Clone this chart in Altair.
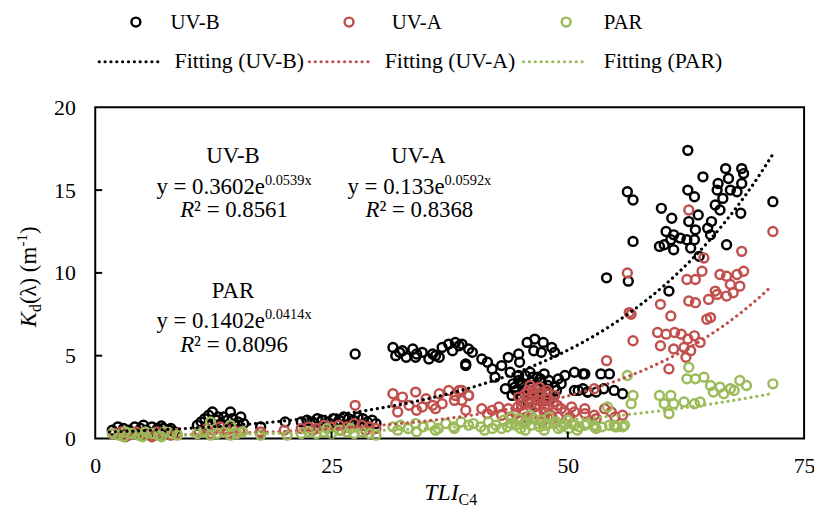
import altair as alt
import numpy as np
import pandas as pd

# ---------------- data ----------------
series_names = ["UV-B", "UV-A", "PAR"]
series_colors = ["#000000", "#C0504D", "#9BBB59"]

uvb_points = [
    (1.8, 0.5), (2.4, 0.7), (3.0, 0.6), (3.6, 0.5), (4.2, 0.7), (4.8, 0.6), (5.4, 0.5), (6.0, 0.7),
    (6.6, 0.6), (7.2, 0.6), (7.8, 0.5), (8.4, 0.4), (2.8, 0.3), (4.5, 0.35), (6.3, 0.4), (8.0, 0.6),
    (5.1, 0.8), (7.0, 0.75),
    (10.8, 0.8), (11.2, 1.0), (11.6, 1.2), (11.9, 0.8), (12.4, 1.6), (12.8, 1.1), (13.3, 0.9), (13.6, 1.3),
    (14.0, 1.1), (14.3, 1.6), (14.7, 0.8), (15.1, 1.0), (15.4, 1.3), (15.7, 0.9), (12.0, 1.4), (13.0, 1.3),
    (14.5, 1.2), (17.5, 0.7), (20.1, 1.0),
    (21.8, 1.0), (22.4, 1.1), (23.0, 1.0), (23.5, 1.2), (24.0, 1.1), (24.6, 1.0), (25.2, 1.2), (25.8, 1.1),
    (26.3, 1.3), (26.8, 1.2), (27.3, 1.1), (27.8, 1.3), (28.3, 1.2), (28.8, 1.0), (29.3, 1.1), (29.7, 0.9),
    (23.2, 0.9), (25.5, 0.9), (27.0, 0.9), (28.5, 0.8), (27.5, 5.1),
    (31.5, 5.5), (32.5, 5.3), (33.6, 5.4), (34.6, 5.2), (35.7, 5.1), (36.7, 5.5), (37.4, 5.7), (38.5, 5.6),
    (39.5, 5.4), (31.8, 5.0), (32.9, 4.9), (33.9, 4.9), (35.3, 4.8), (36.4, 4.9), (39.2, 4.5), (38.1, 5.8),
    (38.8, 5.7), (39.9, 5.2), (32.2, 5.2), (34.0, 5.1), (36.0, 5.0), (37.8, 5.3),
    (39.2, 4.4), (40.9, 4.8), (42.0, 4.2), (42.3, 3.7), (43.0, 4.4), (43.7, 4.9), (44.8, 5.1), (44.9, 4.6),
    (43.9, 4.0), (44.8, 3.8), (41.5, 4.6),
    (45.7, 5.8), (46.5, 6.0), (47.4, 5.8), (48.3, 5.5), (46.4, 5.3), (47.2, 5.2), (48.6, 5.2), (43.4, 3.0),
    (44.4, 3.1), (45.1, 3.2), (46.2, 3.4), (47.2, 3.4), (47.9, 3.2), (44.1, 2.6), (45.1, 2.5), (46.5, 2.7),
    (47.9, 2.8), (48.6, 3.1), (49.0, 3.6), (49.7, 3.8), (45.5, 3.8), (46.0, 4.0), (46.8, 3.7), (47.5, 3.9),
    (45.8, 2.2), (46.6, 2.0), (47.6, 2.3), (48.2, 2.4), (44.8, 3.5), (49.3, 3.3), (46.0, 2.9), (47.0, 2.7),
    (44.5, 2.9), (45.3, 2.8), (46.1, 3.1), (46.9, 3.0), (47.7, 2.9), (48.5, 2.6), (45.0, 3.4), (46.3, 3.7),
    (47.1, 3.6), (48.0, 3.5), (44.2, 3.3), (45.6, 2.6), (47.4, 2.5), (48.8, 2.9), (46.7, 2.4),
    (50.7, 4.0), (51.6, 3.9), (50.7, 2.9), (51.6, 3.0), (52.1, 2.8), (51.8, 3.9), (53.5, 3.9), (54.4, 3.9),
    (51.1, 2.9), (52.1, 2.8), (53.0, 2.8), (55.8, 2.7), (53.8, 3.0), (54.9, 2.9),
    (62.7, 17.4), (56.3, 14.9), (56.9, 14.4), (59.9, 13.9), (62.7, 15.0), (63.4, 14.6), (64.3, 15.8),
    (66.7, 16.3), (68.4, 16.3), (68.6, 16.0), (67.0, 15.7), (65.9, 15.4), (65.8, 15.0), (67.2, 15.0),
    (67.9, 14.9), (68.4, 15.4), (66.4, 14.5), (65.6, 14.1), (66.1, 13.8), (68.3, 13.6), (71.7, 14.3),
    (61.0, 13.3), (62.8, 13.1), (63.8, 13.5), (65.2, 13.1), (64.8, 12.7), (63.5, 12.6), (65.1, 12.3),
    (60.4, 12.5), (61.2, 12.3), (61.9, 12.1), (60.9, 12.0), (62.6, 12.0), (63.4, 12.0), (59.7, 11.6),
    (60.2, 11.7), (61.2, 11.4), (63.0, 11.5), (56.9, 11.9), (66.8, 11.7), (63.9, 11.0), (54.1, 9.7),
    (56.4, 9.5), (60.7, 8.9),
]

uva_points = [
    (2.0, 0.3), (2.8, 0.4), (3.5, 0.2), (4.3, 0.4), (5.0, 0.3), (5.8, 0.2), (6.5, 0.4), (7.3, 0.3),
    (8.0, 0.2), (8.6, 0.3), (3.2, 0.1), (6.0, 0.1),
    (11.0, 0.4), (11.8, 0.6), (12.5, 0.5), (13.2, 0.7), (13.9, 0.5), (14.6, 0.6), (15.3, 0.4), (12.2, 0.3),
    (14.0, 0.3), (17.5, 0.4), (20.0, 0.5),
    (21.8, 0.6), (22.6, 0.7), (23.4, 0.6), (24.2, 0.8), (25.0, 0.7), (25.8, 0.8), (26.6, 0.7), (27.4, 0.9),
    (28.2, 0.8), (29.0, 0.7), (29.7, 0.6), (23.0, 0.5), (26.0, 0.5), (28.6, 0.5), (27.5, 2.0),
    (31.5, 2.7), (32.5, 2.5), (33.9, 2.8), (35.0, 2.4), (36.4, 2.7), (37.4, 2.9), (38.1, 2.6), (38.8, 2.9),
    (39.5, 2.6), (31.8, 2.1), (33.2, 2.0), (34.6, 1.9), (35.7, 2.0), (36.7, 2.1), (39.2, 1.7), (32.0, 1.6),
    (34.0, 1.7), (36.0, 1.8), (38.0, 2.3),
    (38.5, 2.9), (39.5, 2.6), (38.8, 2.3), (40.9, 1.8), (42.0, 1.7), (42.7, 1.9), (43.7, 1.8),
    (41.5, 1.5), (43.0, 1.4),
    (45.8, 2.9), (46.5, 3.0), (47.2, 2.8), (45.8, 2.4), (46.9, 2.3), (47.9, 2.4), (48.6, 2.6), (45.1, 2.0),
    (46.5, 1.9), (47.9, 1.9), (49.3, 1.8), (44.5, 1.5), (45.3, 1.6), (46.0, 1.4), (46.8, 1.5), (47.5, 1.6),
    (48.2, 1.4), (44.0, 1.2), (45.0, 1.1), (46.2, 1.2), (47.3, 1.0), (48.4, 1.2), (49.0, 1.3), (44.8, 2.5),
    (46.4, 2.6), (47.8, 2.7), (46.0, 3.2), (47.0, 3.1),
    (45.5, 2.7), (46.3, 2.8), (47.1, 2.6), (47.8, 2.9), (48.5, 2.2), (45.2, 2.2), (46.1, 2.1), (47.0, 2.0),
    (47.6, 1.8), (48.9, 2.0), (44.7, 1.9), (49.7, 1.6), (45.6, 1.3), (47.9, 1.3),
    (50.4, 1.9), (51.8, 1.8), (50.7, 1.6), (51.8, 1.5), (52.8, 1.4), (53.9, 1.8), (54.6, 1.6), (55.8, 1.4),
    (52.8, 3.0), (50.2, 1.3), (53.0, 1.2), (55.0, 1.3),
    (62.8, 13.8), (71.7, 12.5), (68.4, 11.3), (64.4, 10.9), (56.3, 10.0), (62.6, 9.6), (63.5, 9.6),
    (64.2, 10.1), (66.1, 9.9), (66.8, 9.8), (67.9, 9.9), (68.6, 10.1), (67.2, 9.3), (68.2, 9.2), (65.6, 8.9),
    (65.8, 8.7), (66.8, 8.6), (56.7, 7.5), (56.5, 7.6), (59.8, 8.1), (60.9, 7.4), (62.8, 8.3), (63.5, 8.2),
    (64.9, 8.4), (67.5, 8.8), (64.7, 7.2), (65.1, 7.3), (56.9, 5.9), (59.5, 6.4), (60.4, 6.3), (61.3, 6.4),
    (62.0, 6.3), (62.7, 6.0), (63.4, 6.2), (64.0, 5.8), (59.8, 5.6), (61.2, 5.4), (62.3, 5.5), (63.0, 5.3),
    (62.5, 4.9), (54.1, 4.7), (60.7, 4.2),
]

par_points = [
    (1.8, 0.3), (2.5, 0.2), (3.2, 0.4), (3.9, 0.3), (4.6, 0.2), (5.3, 0.4), (6.0, 0.3), (6.7, 0.2),
    (7.4, 0.4), (8.1, 0.3), (8.7, 0.2), (3.0, 0.1), (5.0, 0.1), (7.0, 0.1),
    (10.8, 0.3), (11.5, 0.4), (12.2, 0.2), (12.9, 0.3), (13.6, 0.4), (14.3, 0.2), (15.0, 0.3), (15.6, 0.4),
    (12.2, 1.0), (14.3, 0.8), (17.5, 0.2), (20.3, 0.2),
    (21.8, 0.3), (22.6, 0.4), (23.4, 0.3), (24.2, 0.4), (25.0, 0.3), (25.8, 0.5), (26.6, 0.4), (27.4, 0.3),
    (28.2, 0.4), (29.0, 0.3), (29.7, 0.2), (24.5, 0.6), (27.0, 0.6),
    (31.5, 0.7), (32.3, 0.8), (33.1, 0.6), (33.9, 0.9), (34.7, 0.7), (35.5, 0.8), (36.3, 0.6), (37.1, 0.9),
    (37.9, 0.7), (38.7, 1.0), (39.5, 0.8), (32.0, 0.5), (34.0, 0.4), (36.0, 0.5), (38.0, 0.6),
    (40.0, 0.9), (40.8, 0.7), (41.6, 1.0), (42.4, 0.8), (43.2, 1.1), (44.0, 0.9), (44.8, 1.2), (45.6, 1.0),
    (46.4, 1.2), (47.2, 1.1), (48.0, 0.9), (48.8, 1.0), (49.6, 0.8), (50.4, 0.9), (51.2, 0.7), (52.0, 0.9),
    (52.8, 0.8), (53.6, 0.7), (54.4, 0.8), (55.2, 0.7), (56.0, 0.8), (41.2, 0.5), (43.0, 0.6), (45.0, 0.6),
    (47.0, 0.7), (49.0, 0.6), (51.0, 0.5), (53.0, 0.6), (55.0, 0.7), (44.0, 1.3), (46.0, 1.4), (48.0, 1.3),
    (50.0, 1.1), (45.5, 0.5), (47.5, 0.5),
    (44.5, 0.8), (45.3, 0.9), (46.1, 0.8), (46.9, 0.9), (47.7, 0.8), (48.5, 0.9), (49.3, 0.7), (50.1, 0.6),
    (42.0, 0.6), (43.6, 0.7),
    (62.8, 4.3), (56.3, 3.8), (62.6, 3.6), (63.5, 3.6), (64.4, 3.7), (65.1, 3.2), (66.1, 3.1), (67.2, 3.0),
    (68.2, 3.5), (68.9, 3.2), (71.7, 3.3), (65.4, 2.8), (66.5, 2.7), (67.6, 2.9), (56.9, 2.6), (56.7, 2.1),
    (59.7, 2.6), (60.9, 2.6), (60.2, 2.1), (61.2, 2.1), (62.3, 2.2), (63.4, 2.1), (64.0, 2.2), (60.7, 1.5),
    (54.2, 1.9), (55.8, 0.7), (54.9, 0.8), (52.8, 0.7), (51.8, 0.8), (50.7, 0.8),
]

# exponential fits printed on the chart: y = a * e^(b x)
fit_a = [0.3602, 0.133, 0.1402]
fit_b = [0.0539, 0.0592, 0.0414]
fit_r2 = [0.8561, 0.8368, 0.8096]
fit_range = [1.5, 71.6]

x_ticks = [0, 25, 50, 75]
y_ticks = [0, 5, 10, 15, 20]

# ---------------- layout ----------------
W, H = 715, 334
FONT = "Liberation Serif"

WID = {' ': .25, '(': .333, ')': .333, '-': .333, '.': .25, '=': .564, 'A': .722, 'B': .667, 'C': .667,
       'F': .556, 'P': .556, 'R': .667, 'U': .722, 'V': .722, 'e': .444, 'g': .5, 'i': .278, 'n': .5,
       't': .278, 'x': .5, 'y': .5, 'm': .778, 'd': .5, 'λ': .5, '²': .3}
WID_IT = {'K': .667, 'R': .611, 'T': .556, 'L': .556, 'I': .333}


def tw(s, fs, italic=False):
    tab = WID_IT if italic else WID
    return sum((tab.get(c, WID.get(c, .5))) for c in s) * fs


normal_rows, italic_rows = [], []


def put_line(pieces, cx, base):
    """pieces: (text, size, italic, dy); centred on cx, baseline base."""
    total = sum(tw(t, fs, it) for t, fs, it, dy in pieces)
    x = cx - total / 2
    for t, fs, it, dy in pieces:
        row = {"px": x, "py": base + dy, "t": t, "fs": fs}
        (italic_rows if it else normal_rows).append(row)
        x += tw(t, fs, it)


group_cx = [140, 327, 140]
group_base = [56, 56, 192]
for i, name in enumerate(series_names):
    cx, b = group_cx[i], group_base[i]
    put_line([(name, 23, False, 0)], cx, b)
    put_line([(f"y = {fit_a[i]}e", 23, False, 0), (f"{fit_b[i]}x", 14.5, False, -9)], cx, b + 31)
    put_line([("R", 23, True, 0), (f"² = {fit_r2[i]:.4f}", 23, False, 0)], cx, b + 55)

# x-axis title  TLI_C4
put_line([("TLI", 24, True, 0), ("C4", 16, False, 5)], W / 2 + 1, 396)

# legend labels
leg_sym_x = [41, 256, 475]
leg_lab_x = [76, 299, 513]
leg_line_x = [(4, 65), (216, 278), (432, 496)]
leg_fit_lab_x = [80, 292, 513]
for i, name in enumerate(series_names):
    normal_rows.append({"px": leg_lab_x[i], "py": -79, "t": name, "fs": 21})
    normal_rows.append({"px": leg_fit_lab_x[i], "py": -39.5, "t": f"Fitting ({name})", "fs": 22})

# y-axis title, rotated:  K_d(λ) (m^-1)
yt_pieces = [("K", 23, True, 0), ("d", 16, False, 5), ("(λ) (m", 23, False, 0), ("-1", 15, False, -9), (")", 23, False, 0)]
yt_total = sum(tw(t, fs, it) for t, fs, it, dy in yt_pieces)
yrot_n, yrot_i = [], []
ypos = H / 2 + 4 + yt_total / 2
for t, fs, it, dy in yt_pieces:
    row = {"px": -60 + dy, "py": ypos, "t": t, "fs": fs}
    (yrot_i if it else yrot_n).append(row)
    ypos -= tw(t, fs, it)

# ---------------- chart ----------------
xs = alt.Scale(domain=[x_ticks[0], x_ticks[-1]], nice=False, zero=False)
ys = alt.Scale(domain=[y_ticks[0], y_ticks[-1]], nice=False, zero=False)
xa = alt.Axis(values=x_ticks, ticks=False, domain=False, grid=False, labelFont=FONT, labelFontSize=22,
              labelColor="black", labelPadding=17, labelFlush=False, labelOverlap=False, title=None)
ya = alt.Axis(values=y_ticks, ticks=False, domain=False, grid=False, labelFont=FONT, labelFontSize=22,
              labelColor="black", labelPadding=20, labelOverlap=False, title=None)

PT_SIZE, PT_STROKE = 80, 2.5

layers = []
for pts, name, col in zip([uvb_points, uva_points, par_points], series_names, series_colors):
    df = pd.DataFrame(pts, columns=["x", "y"])
    layers.append(
        alt.Chart(df).mark_point(shape="circle", filled=False, size=PT_SIZE, strokeWidth=PT_STROKE,
                                 opacity=1, color=col)
        .encode(x=alt.X("x:Q", scale=xs, axis=xa), y=alt.Y("y:Q", scale=ys, axis=ya))
    )

for a, b, col in zip(fit_a, fit_b, series_colors):
    fx = np.linspace(fit_range[0], fit_range[1], 200)
    fdf = pd.DataFrame({"x": fx, "y": a * np.exp(b * fx)})
    layers.append(
        alt.Chart(fdf).mark_line(color=col, strokeWidth=3.2, strokeDash=[0.1, 5.8], strokeCap="round")
        .encode(x=alt.X("x:Q", scale=xs, axis=xa), y=alt.Y("y:Q", scale=ys, axis=ya), order="x:Q")
    )

# inward ticks
layers.append(
    alt.Chart(pd.DataFrame({"v": x_ticks[1:-1]})).mark_rule(color="black", strokeWidth=2)
    .encode(x=alt.X("v:Q", scale=xs, axis=xa), y=alt.value(H), y2=alt.value(H - 7))
)
layers.append(
    alt.Chart(pd.DataFrame({"v": y_ticks[1:-1]})).mark_rule(color="black", strokeWidth=2)
    .encode(y=alt.Y("v:Q", scale=ys, axis=ya), x=alt.value(0), x2=alt.value(7))
)

# legend symbols
leg_df = pd.DataFrame({"px": leg_sym_x, "py": [-86] * 3, "c": series_colors})
layers.append(
    alt.Chart(leg_df).mark_point(shape="circle", filled=False, size=PT_SIZE, strokeWidth=PT_STROKE, opacity=1)
    .encode(x=alt.X("px:Q", scale=None, axis=None), y=alt.Y("py:Q", scale=None, axis=None),
            color=alt.Color("c:N", scale=None))
)
legl_df = pd.DataFrame({"x1": [p[0] for p in leg_line_x], "x2": [p[1] for p in leg_line_x],
                        "py": [-46] * 3, "c": series_colors})
layers.append(
    alt.Chart(legl_df).mark_rule(strokeWidth=3.2, strokeDash=[0.1, 5.8], strokeCap="round")
    .encode(x=alt.X("x1:Q", scale=None, axis=None), x2="x2:Q", y=alt.Y("py:Q", scale=None, axis=None),
            color=alt.Color("c:N", scale=None))
)


def text_layer(rows, italic=False, angle=0):
    mk = dict(font=FONT, align="left", baseline="alphabetic", color="black")
    if italic:
        mk["fontStyle"] = "italic"
    if angle:
        mk["angle"] = angle
    return alt.Chart(pd.DataFrame(rows)).mark_text(**mk).encode(
        x=alt.X("px:Q", scale=None, axis=None), y=alt.Y("py:Q", scale=None, axis=None),
        text="t:N", size=alt.Size("fs:Q", scale=None))


layers += [text_layer(normal_rows), text_layer(italic_rows, italic=True),
           text_layer(yrot_n, angle=270), text_layer(yrot_i, italic=True, angle=270)]

chart = alt.layer(*layers).properties(
    width=W, height=H,
    autosize=alt.AutoSizeParams(type="none"),
    padding={"left": 88, "top": 98, "right": 10, "bottom": 72},
    background="white",
).configure_view(stroke="black", strokeWidth=2)

chart.save("out.html", embed_options={"renderer": "svg", "actions": False})
